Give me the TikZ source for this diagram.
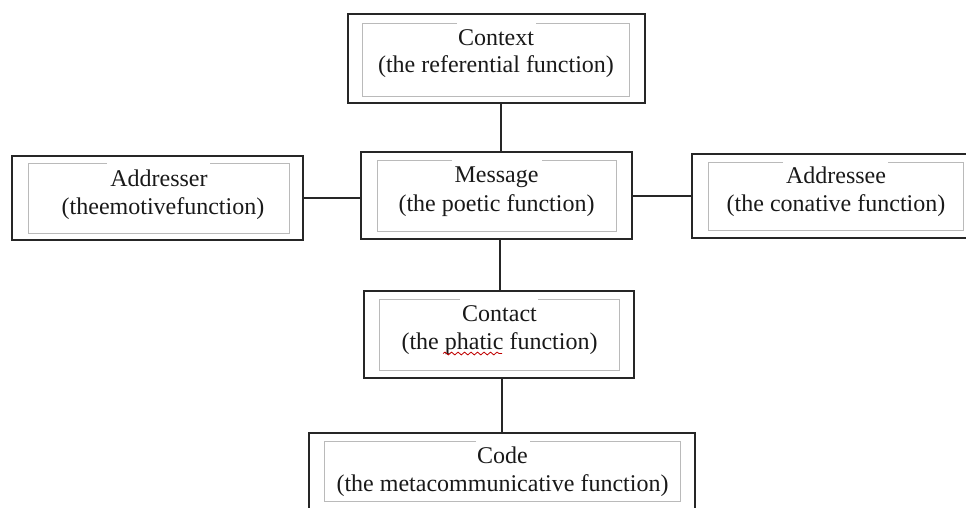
\documentclass[tikz,border=0pt]{standalone}
\usepackage{fontspec}
\setmainfont{Liberation Serif}
\usetikzlibrary{decorations.pathmorphing}
\tikzset{
  outerbox/.style={draw=black!85, line width=1.7pt, inner sep=0pt},
  innerline/.style={draw=black!27, line width=1pt},
  lbl/.style={font=\fontsize{24}{28}\selectfont, inner sep=0pt, anchor=base, text=black!90},
  link/.style={draw=black!85, line width=1.5pt},
}
\newcommand\innerframe[6]{\draw[innerline] (#5,#2) -- (#1,#2) -- (#1,#4) -- (#3,#4) -- (#3,#2) -- (#6,#2);}
\begin{document}
\begin{tikzpicture}[x=1pt,y=-1pt]
\useasboundingbox (0,0) rectangle (966,507);
% outer boxes
\node[outerbox, minimum width=297pt, minimum height=89pt] (context) at (496.5,58.5) {};
\node[outerbox, minimum width=291pt, minimum height=84pt] (addresser) at (157.5,198) {};
\node[outerbox, minimum width=271pt, minimum height=87pt] (message) at (496.5,195.5) {};
\node[outerbox, minimum width=283pt, minimum height=84pt] (addressee) at (833.5,196) {};
\node[outerbox, minimum width=270pt, minimum height=87pt] (contact) at (499,334.5) {};
\node[outerbox, minimum width=386pt, minimum height=87pt] (code) at (502,476.5) {};
% inner frames
\innerframe{362}{23}{629}{96}{457}{536}
\innerframe{28}{163}{289}{233}{107}{210}
\innerframe{377}{160}{616}{231}{452}{542}
\innerframe{708}{162}{963}{230}{783}{888}
\innerframe{379}{299}{619}{370}{460}{538}
\innerframe{324}{441}{680}{501}{476}{530}
% texts
\node[lbl] (context1) at (496,45) {Context};
\node[lbl] (context2) at (496,72.5) {(the referential function)};
\node[lbl] (addresser1) at (159,186.5) {Addresser};
\node[lbl] (addresser2) at (163,214.5) {(theemotivefunction)};
\node[lbl] (message1) at (496.5,182.5) {Message};
\node[lbl] (message2) at (496.5,211) {(the poetic function)};
\node[lbl] (addressee1) at (836,183.3) {Addressee};
\node[lbl] (addressee2) at (836,211.7) {(the conative function)};
\node[lbl] (contact1) at (499.5,321.3) {Contact};
\node[lbl] (contact2) at (499.5,349.7) {(the phatic function)};
\node[lbl] (code1) at (502.5,463) {Code};
\node[lbl] (code2) at (502.5,491.3) {(the metacommunicative function)};
% spell-check underline
\draw[red!75!black, line width=0.8pt, decorate, decoration={snake, amplitude=1.4pt, segment length=6.5pt}] (443,353.5) -- (502,353.5);
% connectors
\draw[link] ([xshift=4.5pt]context.south) -- ([xshift=4.5pt]context.south |- message.north);
\draw[link] ([xshift=3.5pt]message.south) -- ([xshift=3.5pt]message.south |- contact.north);
\draw[link] (code.north |- contact.south) -- (code.north);
\draw[link] (addresser.east) -- (addresser.east -| message.west);
\draw[link] (message.east |- addressee.west) -- (addressee.west);
\end{tikzpicture}
\end{document}
